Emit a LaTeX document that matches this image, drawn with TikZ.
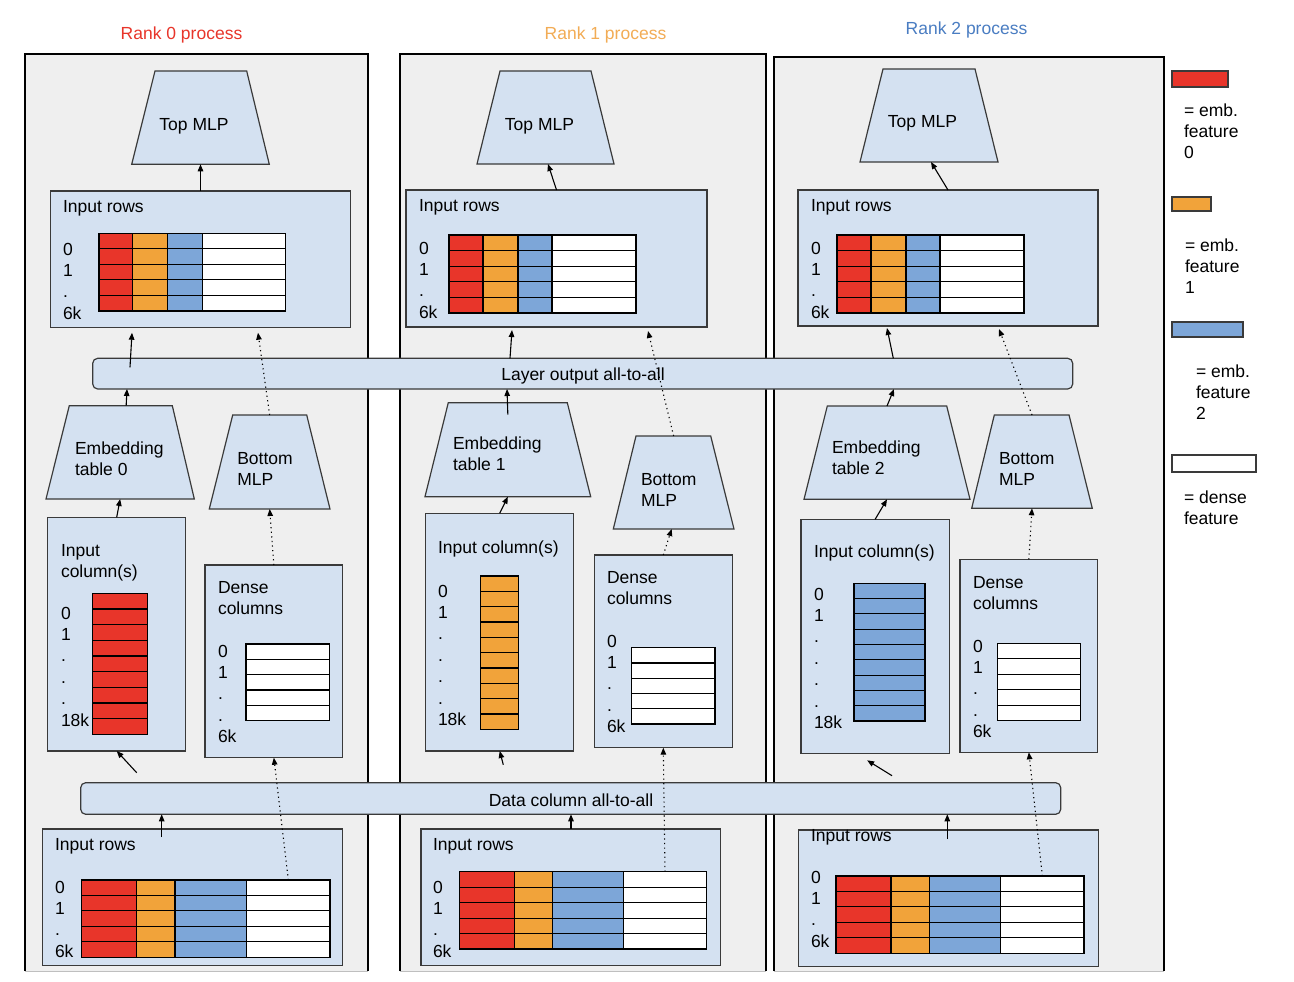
\documentclass[tikz,border=0pt]{standalone}
\usepackage{fontspec}
\setmainfont{Liberation Sans}
\usetikzlibrary{arrows.meta}
\definecolor{cred}{HTML}{E8352A}
\definecolor{corange}{HTML}{F1A33A}
\definecolor{cblue}{HTML}{7DA6D8}
\definecolor{cbox}{HTML}{D4E1F1}
\definecolor{cpanel}{HTML}{EFEFEF}
\definecolor{cline}{HTML}{3A3A3A}
\definecolor{tred}{HTML}{E8352A}
\definecolor{torange}{HTML}{F2AC55}
\definecolor{tblue}{HTML}{4A7DC2}

\newcommand\mytrap[7]{%
  \draw[trapst] (#2,#4) -- (#3,#4) -- (#6,#7) -- (#5,#7) -- cycle;
  \node[minimum width={#6-#5}, minimum height={#7-#4}, anchor=north west] (#1) at (#5,#4) {};
}
\newcommand\mybox[5]{%
  \node[boxst, minimum width={#4-#2}, minimum height={#5-#3}, anchor=north west] (#1) at (#2,#3) {};
}
\newcommand\rgrid[8]{%
  \fill[cred] (#2,#7) rectangle (#3,#8);
  \fill[corange] (#3,#7) rectangle (#4,#8);
  \fill[cblue] (#4,#7) rectangle (#5,#8);
  \fill[white] (#5,#7) rectangle (#6,#8);
  \foreach \k in {1,2,3,4} \draw[gridst] (#2,{#7+\k*(#8-#7)/5}) -- (#6,{#7+\k*(#8-#7)/5});
  \draw[gridst] (#3,#7) -- (#3,#8) (#4,#7) -- (#4,#8) (#5,#7) -- (#5,#8);
  \draw[gridst] (#2,#7) rectangle (#6,#8);
  \coordinate (#1) at ({(#5+#6)/2},#7);
}
\newcommand\cgrid[6]{%
  \fill[#6] (#1,#3) rectangle (#2,#4);
  \foreach \k in {1,...,#5} \draw[gridst] (#1,{#3+\k*(#4-#3)/#5}) -- (#2,{#3+\k*(#4-#3)/#5});
  \draw[gridst] (#1,#3) rectangle (#2,#4);
}

\begin{document}
\begin{tikzpicture}[x=1pt,y=-1pt,
  every node/.style={font=\fontsize{17.5}{21.4}\selectfont, inner sep=0pt, outer sep=0pt},
  txt/.style={anchor=base west, align=left},
  nl/.style={yshift={-#1*21.4pt}},
  boxst/.style={draw=cline, fill=cbox, line width=1.2pt},
  trapst/.style={draw=cline, fill=cbox, line width=1.2pt, line join=miter},
  barst/.style={draw=cline, fill=cbox, line width=1.2pt, rounded corners=5pt},
  gridst/.style={draw=black, line width=1.1pt},
  legst/.style={draw=cline, line width=1.2pt, anchor=north west},
  arr/.style={-{Triangle[length=7pt,width=5.5pt]}, line width=1.1pt, black},
  dotarr/.style={arr, dash pattern=on 1.2pt off 3.4pt},
]
\useasboundingbox (0,0) rectangle (1294,982);
\fill[white] (0,0) rectangle (1294,982);

% panels
\fill[cpanel] (25,54) rectangle (368,971);
\draw[line width=1.1pt] (25,971) -- (25,54) -- (368,54) -- (368,971);
\fill[cpanel] (400,54) rectangle (766,971);
\draw[line width=1.1pt] (400,971) -- (400,54) -- (766,54) -- (766,971);
\fill[cpanel] (774,57) rectangle (1164,971);
\draw[line width=1.1pt] (774,971) -- (774,57) -- (1164,57) -- (1164,971);
\draw[line width=1pt, black!25] (25,971) -- (368,971) (400,971) -- (766,971) (774,971) -- (1164,971);

% titles
\node[text=tred, anchor=base] (title0) at (181.5,40) {Rank 0 process};
\node[text=torange, anchor=base] (title1) at (605.5,40) {Rank 1 process};
\node[text=tblue, anchor=base] (title2) at (966.5,35) {Rank 2 process};

% all-to-all bars
\node[barst, minimum width=980, minimum height=30.7, anchor=north west] (lbar) at (92.7,358.3) {};
\node[anchor=base] (tlbar) at (583,380) {Layer output all-to-all};
\node[barst, minimum width=980, minimum height=31.6, anchor=north west] (dbar) at (80.7,782.7) {};
\node[anchor=base] (tdbar) at (571,806) {Data column all-to-all};

% ---------- Rank 0 ----------
\mytrap{tm0}{155}{246.7}{71}{131.7}{269.3}{164.3}
\node[anchor=base] (ttm0) at (194,130.5) {Top MLP};
\mybox{ir0}{50.7}{191}{350.7}{327.7}
\node[txt] (tir0) at (63,212) {Input rows};
\node[txt, nl=3] (lir0) at (63,255) {0\\1\\.\\6k};
\rgrid{g0t}{99}{132.7}{167.7}{202.3}{285.7}{233.3}{311}
\mytrap{emb0}{69.3}{172.3}{405.7}{46}{194.3}{499}
\node[txt, nl=1] (temb0) at (75,454) {Embedding\\table 0};
\mytrap{bmlp0}{232.7}{306.7}{415}{209.3}{330}{509}
\node[txt, nl=1] (tbm0) at (237.3,464) {Bottom\\MLP};
\mybox{ic0}{47.7}{517.3}{185.7}{751}
\node[txt, nl=1] (tic0) at (61,556) {Input\\column(s)};
\node[txt, nl=5] (lic0) at (61,619) {0\\1\\.\\.\\.\\18k};
\cgrid{92.7}{147.7}{593.3}{734.3}{9}{cred}
\mybox{dc0}{205}{565}{342.7}{757.7}
\node[txt, nl=1] (tdc0) at (218,593) {Dense\\columns};
\node[txt, nl=4] (ldc0) at (218,657) {0\\1\\.\\.\\6k};
\cgrid{246}{329.3}{644}{720.7}{5}{white}
\mybox{bir0}{42.7}{829}{342.7}{965.7}
\node[txt] (tbir0) at (55,850) {Input rows};
\node[txt, nl=3] (lbir0) at (55,893) {0\\1\\.\\6k};
\rgrid{g0b}{81.7}{136.7}{175}{246.7}{330}{880}{957.3}

% ---------- Rank 1 ----------
\mytrap{tm1}{500}{591}{71}{477}{614}{164}
\node[anchor=base] (ttm1) at (539.5,130) {Top MLP};
\mybox{ir1}{406}{190}{707}{327}
\node[txt] (tir1) at (419,211) {Input rows};
\node[txt, nl=3] (lir1) at (419,254) {0\\1\\.\\6k};
\rgrid{g1t}{449}{483}{518}{552}{636}{235}{313}
\mytrap{emb1}{448.3}{567.3}{402.7}{425}{590.7}{496.7}
\node[txt, nl=1] (temb1) at (453,449) {Embedding\\table 1};
\mytrap{bmlp1}{636}{710.7}{436}{613.3}{734}{529}
\node[txt, nl=1] (tbm1) at (641,485) {Bottom\\MLP};
\mybox{ic1}{425.7}{513.3}{573.7}{751}
\node[txt] (tic1) at (438,553) {Input column(s)};
\node[txt, nl=6] (lic1) at (438,597) {0\\1\\.\\.\\.\\.\\18k};
\cgrid{480.7}{518.7}{576}{729.3}{10}{corange}
\mybox{dc1}{594.3}{555}{732.3}{747.7}
\node[txt, nl=1] (tdc1) at (607,583) {Dense\\columns};
\node[txt, nl=4] (ldc1) at (607,647) {0\\1\\.\\.\\6k};
\cgrid{631.7}{715}{647.7}{724}{5}{white}
\mybox{bir1}{421}{829}{720.7}{965.7}
\node[txt] (tbir1) at (433,850) {Input rows};
\node[txt, nl=3] (lbir1) at (433,893) {0\\1\\.\\6k};
\rgrid{g1b}{459.3}{514.3}{552.3}{623.3}{706.7}{871.7}{949}

% ---------- Rank 2 ----------
\mytrap{tm2}{883}{975}{69}{860}{998}{162}
\node[anchor=base] (ttm2) at (922.5,128) {Top MLP};
\mybox{ir2}{798}{190}{1098}{326}
\node[txt] (tir2) at (811,211) {Input rows};
\node[txt, nl=3] (lir2) at (811,254) {0\\1\\.\\6k};
\rgrid{g2t}{837}{871}{906}{940}{1024}{235}{313}
\mytrap{emb2}{827.3}{946.7}{406}{804}{970}{499.3}
\node[txt, nl=1] (temb2) at (832,453) {Embedding\\table 2};
\mytrap{bmlp2}{994.3}{1069}{415}{971.7}{1092.3}{508.3}
\node[txt, nl=1] (tbm2) at (999,464) {Bottom\\MLP};
\mybox{ic2}{801}{519.3}{949.3}{753.3}
\node[txt] (tic2) at (814,557) {Input column(s)};
\node[txt, nl=6] (lic2) at (814,600) {0\\1\\.\\.\\.\\.\\18k};
\cgrid{854}{925}{583.3}{721}{9}{cblue}
\mybox{dc2}{960}{559.3}{1097.7}{752.3}
\node[txt, nl=1] (tdc2) at (973,588) {Dense\\columns};
\node[txt, nl=4] (ldc2) at (973,652) {0\\1\\.\\.\\6k};
\cgrid{997.3}{1080.7}{643.3}{720.7}{5}{white}
\mybox{bir2}{798.3}{830}{1098.3}{966.7}
\node[txt] (tbir2) at (811,841) {Input rows};
\node[txt, nl=3] (lbir2) at (811,883) {0\\1\\.\\6k};
\rgrid{g2b}{836}{891}{929.3}{1000.7}{1084}{876}{953.3}

% ---------- legend ----------
\node[legst, fill=cred, minimum width=56, minimum height=16] (lg0) at (1172,71) {};
\node[txt, nl=2] (tlg0) at (1184,116) {= emb.\\feature\\0};
\node[legst, fill=corange, minimum width=39, minimum height=14] (lg1) at (1172,197) {};
\node[txt, nl=2] (tlg1) at (1185,251) {= emb.\\feature\\1};
\node[legst, fill=cblue, minimum width=71, minimum height=15] (lg2) at (1172,322) {};
\node[txt, nl=2] (tlg2) at (1196,377) {= emb.\\feature\\2};
\node[legst, fill=white, minimum width=84, minimum height=17] (lg3) at (1172,455) {};
\node[txt, nl=1] (tlg3) at (1184,503) {= dense\\feature};

% ---------- connectors rank 0 ----------
\draw[arr] (ir0.north -| tm0.south) -- (tm0.south);
\draw[arr] ([xshift=37.3,yshift=-9]lbar.north west) -- ([xshift=81.3,yshift=-5]ir0.south west);
\draw[arr] ([xshift=6]emb0.north) -- ([xshift=34.3]lbar.south west);
\draw[dotarr] (bmlp0.north) -- ([xshift=207.3,yshift=-5]ir0.south west);
\draw[arr] (ic0.north) -- (emb0.south);
\draw[dotarr] (dc0.north) -- (bmlp0.south);
\draw[arr] ([xshift=56,yshift=10]dbar.north west) -- (ic0.south);
\draw[arr] ([xshift=119,yshift=-8]bir0.north west) -- ([xshift=81]dbar.south west);
\draw[dotarr] (g0b) -- (dc0.south);

% ---------- connectors rank 1 ----------
\draw[arr] (ir1.north) -- ([xshift=2.5]tm1.south);
\draw[arr] ([xshift=417.3]lbar.north west) -- ([xshift=106,yshift=-3]ir1.south west);
\draw[arr] ([yshift=-12]emb1.north) -- ([xshift=414.3]lbar.south west);
\draw[dotarr] (bmlp1.north) -- ([xshift=242,yshift=-4]ir1.south west);
\draw[arr] (ic1.north) -- (emb1.south);
\draw[dotarr] (dc1.north) -- ([xshift=-2]bmlp1.south);
\draw[arr] ([xshift=422.6,yshift=18]dbar.north west) -- (ic1.south);
\draw[arr] ([xshift=150]bir1.north west) -- ([xshift=490.3]dbar.south west);
\draw[dotarr] (g1b) -- (dc1.south);

% ---------- connectors rank 2 ----------
\draw[arr] (ir2.north) -- ([xshift=2]tm2.south);
\draw[arr] ([xshift=800.6]lbar.north west) -- ([xshift=89,yshift=-2]ir2.south west);
\draw[arr] (emb2.north) -- ([xshift=801.3]lbar.south west);
\draw[dotarr] (bmlp2.north) -- ([xshift=201,yshift=-3]ir2.south west);
\draw[arr] (ic2.north) -- (emb2.south);
\draw[dotarr] (dc2.north) -- (bmlp2.south);
\draw[arr] ([xshift=811.3,yshift=7]dbar.north west) -- ([xshift=-8,yshift=-7]ic2.south);
\draw[arr] ([xshift=149,yshift=-9]bir2.north west) -- ([xshift=866.6]dbar.south west);
\draw[dotarr] (g2b) -- (dc2.south);
\end{tikzpicture}
\end{document}
